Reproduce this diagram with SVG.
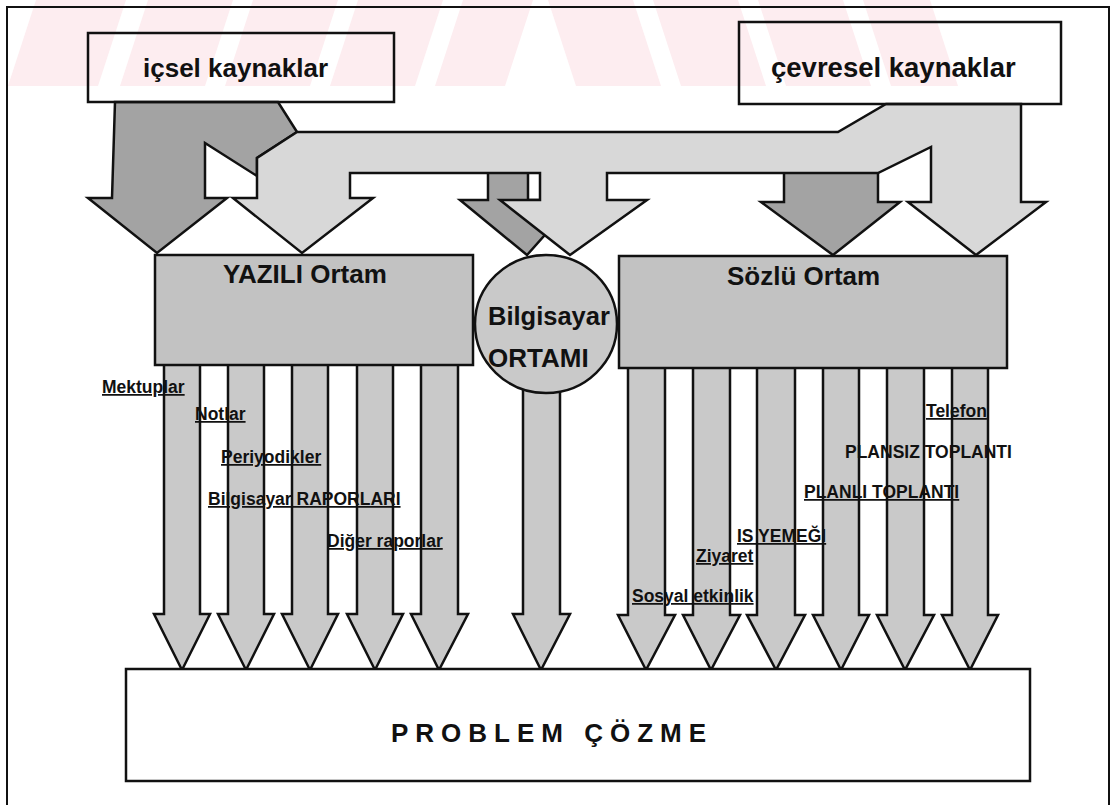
<svg xmlns="http://www.w3.org/2000/svg" width="1113" height="805" viewBox="0 0 1113 805">
<style>
.frame{fill:none;stroke:#111;stroke-width:2}
.box{stroke:#111;stroke-width:2.5}
.arr{stroke:#111;stroke-width:2.5;stroke-linejoin:miter}
.dark{fill:#a3a3a3}
.light{fill:#d8d8d8}
.mid{fill:#c9c9c9}
.boxfill{fill:#c2c2c2}
.wm{fill:#fdedf0}
.t{font-family:"Liberation Sans",Arial,sans-serif;font-weight:bold;fill:#111}
.big{font-size:26px}
.lbl{font-size:17.5px;text-decoration:underline}
.plain{font-size:17.5px}
</style>
<rect x="0" y="0" width="1113" height="805" fill="#fff"/>
<g id="watermark">
<polygon class="wm" points="8,86 98,86 126,0 36,0"/>
<polygon class="wm" points="120,86 205,86 233,0 148,0"/>
<polygon class="wm" points="225,86 310,86 338,0 253,0"/>
<polygon class="wm" points="330,86 415,86 443,0 358,0"/>
<polygon class="wm" points="435,86 505,86 533,0 463,0"/>
<polygon class="wm" points="548,0 633,0 661,86 576,86"/>
<polygon class="wm" points="653,0 738,0 766,86 681,86"/>
<polygon class="wm" points="758,0 843,0 871,86 786,86"/>
<polygon class="wm" points="863,0 930,0 958,86 891,86"/>
</g>
<path class="frame" d="M7,806 V7 H1109 V806"/>
<g id="connectors">
<polygon class="arr dark" points="115,102 278,102 297,132 257,158 257,176 205,143 205,198 227,198 157,253 88,198 112,198"/>
<polygon class="arr dark" points="488,165 528,165 528,200 576,200 527,255 460,200 488,200"/>
<polygon class="arr dark" points="784,165 878,165 878,202 900,202 833,255 761,202 784,202"/>
<polygon class="arr light" points="297,132 838,132 886,104 1021,104 1021,202 1046,202 976,255 908,202 931,202 931,147 878,173 607,173 607,200 647,200 570,255 500,200 540,200 540,173 350,173 350,198 373,198 302,253 233,198 257,198 257,158"/>
<polygon class="arr mid" points="164,360 200,360 200,614 210,614 182,670 154,614 164,614"/>
<polygon class="arr mid" points="228,360 264,360 264,614 274,614 246,670 218,614 228,614"/>
<polygon class="arr mid" points="292,360 328,360 328,614 338,614 310,670 282,614 292,614"/>
<polygon class="arr mid" points="357,360 393,360 393,614 403,614 375,670 347,614 357,614"/>
<polygon class="arr mid" points="421,360 458,360 458,614 468,614 439,670 411,614 421,614"/>
<polygon class="arr mid" points="523,370 560,370 560,614 570,614 541,670 513,614 523,614"/>
<polygon class="arr mid" points="628,362 665,362 665,615 675,615 646,670 618,615 628,615"/>
<polygon class="arr mid" points="693,362 730,362 730,615 740,615 711,670 683,615 693,615"/>
<polygon class="arr mid" points="757,362 795,362 795,615 805,615 776,670 747,615 757,615"/>
<polygon class="arr mid" points="823,362 859,362 859,615 869,615 841,670 813,615 823,615"/>
<polygon class="arr mid" points="887,362 924,362 924,615 934,615 905,670 877,615 887,615"/>
<polygon class="arr mid" points="952,362 988,362 988,615 998,615 970,670 942,615 952,615"/>
</g>
<g id="icsel">
<rect class="box" x="88" y="33" width="306" height="69" fill="none"/>
<text class="t big" x="143" y="77">içsel kaynaklar</text>
</g>
<g id="cevresel">
<rect class="box" x="739" y="22" width="322" height="82" fill="none"/>
<text class="t big" x="771" y="77" style="font-size:27.5px">çevresel kaynaklar</text>
</g>
<g id="yazili">
<rect class="box boxfill" x="155" y="255" width="318" height="110"/>
<text class="t big" x="223" y="283">YAZILI Ortam</text>
</g>
<g id="bilgisayar">
<ellipse class="box mid" cx="546" cy="324" rx="71" ry="69"/>
<text class="t big" x="488" y="325" style="font-size:25.5px">Bilgisayar</text>
<text class="t big" x="488" y="367">ORTAMI</text>
</g>
<g id="sozlu">
<rect class="box boxfill" x="619" y="256" width="388" height="112"/>
<text class="t big" x="727" y="285">Sözlü Ortam</text>
</g>
<g id="problem">
<rect class="box" x="126" y="669" width="904" height="112" fill="#fff"/>
<text class="t" x="391" y="742" style="font-size:26px;letter-spacing:7px">PROBLEM ÇÖZME</text>
</g>
<g id="labels">
<text class="t lbl" x="102" y="393">Mektuplar</text>
<text class="t lbl" x="195" y="420">Notlar</text>
<text class="t lbl" x="221" y="463">Periyodikler</text>
<text class="t lbl" x="208" y="505">Bilgisayar RAPORLARI</text>
<text class="t lbl" x="327" y="547">Diğer raporlar</text>
<text class="t lbl" x="926" y="417">Telefon</text>
<text class="t plain" x="845" y="458">PLANSIZ TOPLANTI</text>
<text class="t lbl" x="804" y="498">PLANLI TOPLANTI</text>
<text class="t lbl" x="737" y="542">IS YEMEĞI</text>
<text class="t lbl" x="696" y="562">Ziyaret</text>
<text class="t lbl" x="632" y="602">Sosyal etkinlik</text>
</g>
</svg>
